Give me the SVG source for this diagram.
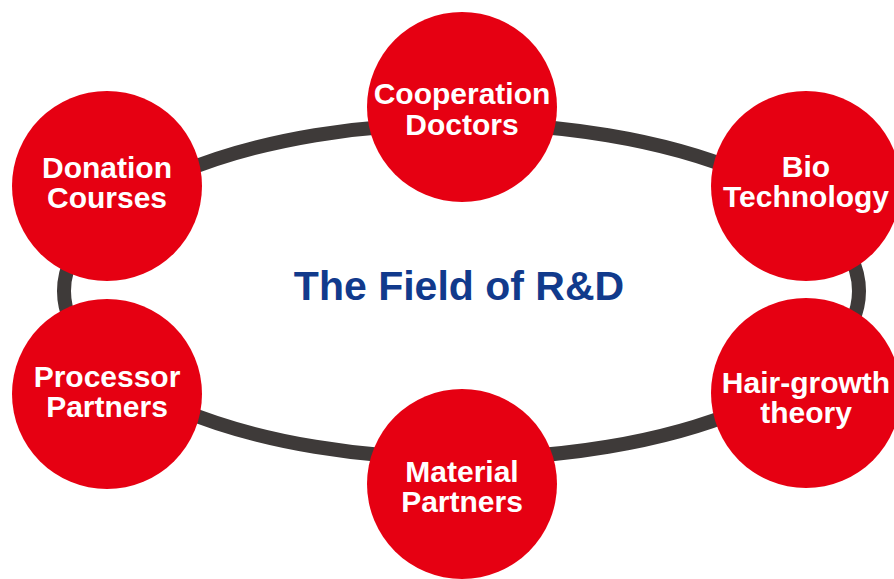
<svg xmlns="http://www.w3.org/2000/svg" width="894" height="579" viewBox="0 0 894 579">
  <style>
    .ring { fill: none; stroke: #3e3a39; stroke-width: 14; }
    .node circle { fill: #e60012; }
    .node text { fill: #ffffff; font-family: "Liberation Sans", Arial, sans-serif; font-weight: bold; font-size: 30px; text-anchor: middle; }
    .title { fill: #113a8c; font-family: "Liberation Sans", Arial, sans-serif; font-weight: bold; font-size: 41px; text-anchor: middle; }
  </style>
  <rect width="894" height="579" fill="#ffffff"/>

  <!-- loop linking all the partners -->
  <g id="connectors">
    <ellipse class="ring" cx="461.5" cy="291" rx="397.5" ry="167.5"/>
  </g>

  <text class="title" x="459" y="300">The Field of R&amp;D</text>

  <g id="node-cooperation-doctors" class="node">
    <circle cx="462" cy="107" r="95"/>
    <text x="462" y="104">Cooperation</text>
    <text x="462" y="135">Doctors</text>
  </g>

  <g id="node-donation-courses" class="node">
    <circle cx="107" cy="186" r="95"/>
    <text x="107" y="178">Donation</text>
    <text x="107" y="208">Courses</text>
  </g>

  <g id="node-bio-technology" class="node">
    <circle cx="806" cy="186" r="95"/>
    <text x="806" y="177">Bio</text>
    <text x="806" y="207">Technology</text>
  </g>

  <g id="node-processor-partners" class="node">
    <circle cx="107" cy="394" r="95"/>
    <text x="107" y="387">Processor</text>
    <text x="107" y="417">Partners</text>
  </g>

  <g id="node-hair-growth-theory" class="node">
    <circle cx="806" cy="393" r="95"/>
    <text x="806" y="393">Hair-growth</text>
    <text x="806" y="423">theory</text>
  </g>

  <g id="node-material-partners" class="node">
    <circle cx="462" cy="484" r="95"/>
    <text x="462" y="482">Material</text>
    <text x="462" y="512">Partners</text>
  </g>
</svg>
